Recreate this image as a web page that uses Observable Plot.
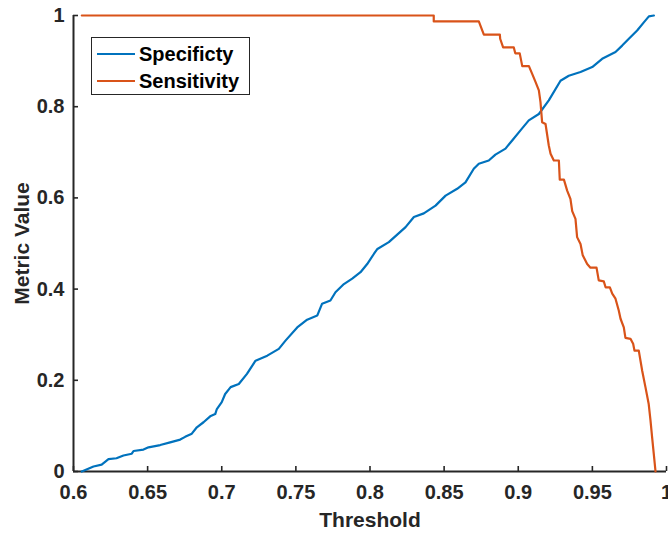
<!DOCTYPE html>
<html><head><meta charset="utf-8">
<script src="https://cdn.jsdelivr.net/npm/d3@7"></script>
<script src="https://cdn.jsdelivr.net/npm/@observablehq/plot@0.6"></script>
<style>
html,body{margin:0;padding:0;background:#fff;overflow:hidden;}
#wrap{position:relative;width:668px;height:534px;}
.legend{position:absolute;left:91px;top:37px;width:159px;height:58px;border:1.6px solid #262626;background:#fff;box-sizing:border-box;font:bold 20px "Liberation Sans",Arial,sans-serif;color:#000;}
.legend .row{position:absolute;left:0;height:26px;width:100%;}
.legend .sw{position:absolute;left:5px;width:38px;height:2.2px;top:12px;}
.legend .lb{position:absolute;left:47px;top:0;line-height:26px;white-space:nowrap;}
</style>
</head><body>
<div id="wrap"></div>
<script>
const xTicks = [0.6, 0.65, 0.7, 0.75, 0.8, 0.85, 0.9, 0.95, 1];
const yTicks = [0, 0.2, 0.4, 0.6, 0.8, 1];
const seriesNames = ["Specificty", "Sensitivity"];
const seriesColors = ["#0072BD", "#D95319"];

const specX = [0.6056,0.6135,0.619,0.6236,0.629,0.6337,0.6393,0.6405,0.6472,0.6506,0.6585,0.6652,0.672,0.6753,0.6798,0.6832,0.6877,0.6922,0.6956,0.6967,0.7,0.7023,0.706,0.7115,0.717,0.7228,0.7307,0.7385,0.743,0.7509,0.7576,0.7644,0.7677,0.7733,0.7767,0.7824,0.788,0.7936,0.7981,0.8026,0.805,0.8127,0.824,0.8296,0.8363,0.8442,0.851,0.8588,0.8644,0.87,0.8734,0.8801,0.8846,0.8914,0.8959,0.9015,0.9071,0.9139,0.9206,0.9285,0.9341,0.942,0.9499,0.9566,0.9656,0.9701,0.9746,0.9802,0.9847,0.9881,0.9915];
const specY = [0,0.011,0.015,0.027,0.029,0.035,0.039,0.045,0.048,0.053,0.058,0.064,0.070,0.076,0.083,0.097,0.108,0.121,0.126,0.137,0.152,0.170,0.185,0.192,0.214,0.243,0.254,0.269,0.287,0.316,0.333,0.342,0.368,0.375,0.393,0.411,0.423,0.437,0.455,0.477,0.488,0.503,0.536,0.558,0.566,0.583,0.605,0.620,0.634,0.664,0.675,0.682,0.695,0.708,0.726,0.748,0.770,0.784,0.814,0.857,0.868,0.876,0.887,0.905,0.920,0.934,0.949,0.967,0.985,0.998,1];

const sensX = [0.6056,0.843,0.843,0.8734,0.8768,0.8876,0.8878,0.8898,0.897,0.898,0.901,0.9027,0.9072,0.9094,0.9117,0.9139,0.915,0.9161,0.9184,0.9206,0.9218,0.924,0.9274,0.928,0.9308,0.933,0.9352,0.9364,0.9386,0.9397,0.942,0.9435,0.9465,0.9487,0.9528,0.9543,0.9577,0.9589,0.9618,0.9634,0.9656,0.9678,0.969,0.9712,0.9723,0.9757,0.9775,0.9784,0.9813,0.9836,0.9858,0.988,0.9892,0.9903,0.9914,0.9926];
const sensY = [1,1,0.987,0.987,0.958,0.958,0.949,0.930,0.930,0.917,0.917,0.889,0.889,0.872,0.854,0.836,0.810,0.766,0.762,0.715,0.697,0.682,0.682,0.640,0.640,0.616,0.598,0.571,0.554,0.514,0.499,0.474,0.455,0.447,0.447,0.419,0.417,0.404,0.404,0.390,0.379,0.353,0.335,0.316,0.293,0.291,0.280,0.265,0.265,0.221,0.185,0.148,0.112,0.075,0.039,0];

const spec = specX.map((x, i) => ({x, y: specY[i]}));
const sens = sensX.map((x, i) => ({x, y: sensY[i]}));

const axisColor = "#262626";
const font = '"Liberation Sans", Arial, sans-serif';
const plotH = 534 - 15 - 63;
const plotW = 668 - 73 - 2;

const chart = Plot.plot({
  width: 668,
  height: 534,
  marginLeft: 73,
  marginRight: 2,
  marginTop: 15,
  marginBottom: 63,
  x: {domain: [0.6, 1]},
  y: {domain: [0, 1]},
  style: {fontFamily: font, fontSize: "20px", fontWeight: "bold", color: axisColor, background: "white"},
  marks: [
    Plot.axisX(xTicks, {tickSize: 0, tickPadding: 13, label: null, tickFormat: d => String(d), fill: axisColor}),
    Plot.axisY(yTicks, {tickSize: 0, tickPadding: 9, label: null, tickFormat: d => String(d), fill: axisColor}),
    Plot.tickX(xTicks, {x: d => d, insetTop: plotH - 5, stroke: axisColor, strokeWidth: 1.6}),
    Plot.tickY(yTicks, {y: d => d, insetRight: plotW - 5, stroke: axisColor, strokeWidth: 1.6}),
    Plot.ruleY([0], {stroke: axisColor, strokeWidth: 2}),
    Plot.ruleX([0.6], {stroke: axisColor, strokeWidth: 2}),
    Plot.line(spec, {x: "x", y: "y", stroke: seriesColors[0], strokeWidth: 2.2}),
    Plot.line(sens, {x: "x", y: "y", stroke: seriesColors[1], strokeWidth: 2.2}),
    Plot.text(["Metric Value"], {frameAnchor: "left", dx: -51, rotate: -90, textAnchor: "middle", lineAnchor: "middle", fill: axisColor, fontSize: 21, fontWeight: "bold"}),
    Plot.text(["Threshold"], {frameAnchor: "bottom", dy: 49, textAnchor: "middle", lineAnchor: "middle", fill: axisColor, fontSize: 21, fontWeight: "bold"})
  ]
});

const wrap = document.getElementById("wrap");
wrap.appendChild(chart);

const legend = document.createElement("div");
legend.className = "legend";
seriesNames.forEach((name, i) => {
  const row = document.createElement("div");
  row.className = "row";
  row.style.top = (3 + i * 27) + "px";
  const sw = document.createElement("div");
  sw.className = "sw";
  sw.style.background = seriesColors[i];
  const lb = document.createElement("div");
  lb.className = "lb";
  lb.textContent = name;
  row.appendChild(sw);
  row.appendChild(lb);
  legend.appendChild(row);
});
wrap.appendChild(legend);
</script>
</body></html>
